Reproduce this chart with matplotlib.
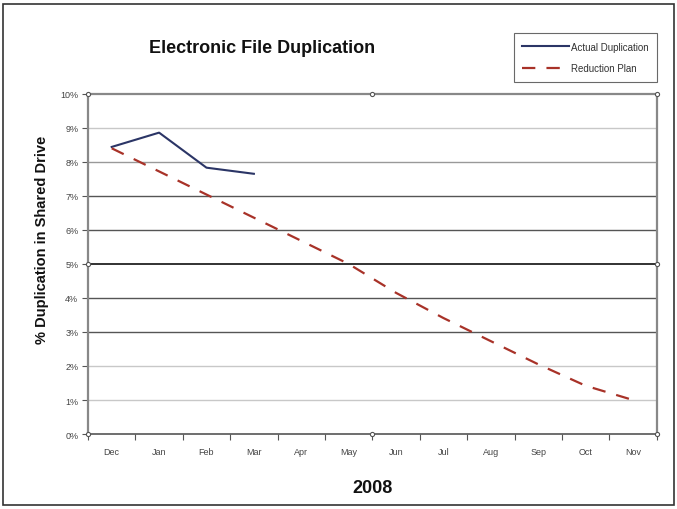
import numpy as np
import matplotlib
matplotlib.use("Agg")
import matplotlib.pyplot as plt
from matplotlib.patches import Rectangle

plt.rcParams['font.family'] = ['Liberation Sans', 'DejaVu Sans']

months = ['Dec', 'Jan', 'Feb', 'Mar', 'Apr', 'May', 'Jun', 'Jul', 'Aug', 'Sep', 'Oct', 'Nov']
actual = [8.44, 8.86, 7.83, 7.65]
plan = [8.4, 7.72, 7.04, 6.36, 5.68, 5.0, 4.15, 3.41, 2.73, 2.05, 1.42, 1.0]
y_ticks = list(range(0, 11))

fig = plt.figure(figsize=(6.77, 5.10), dpi=100)
ax = fig.add_axes([0.130, 0.147, 0.840, 0.667])

# gridlines, darker in the middle band like the original
grid_colors = {1: '#c8c8c8', 2: '#c8c8c8', 3: '#555555', 4: '#555555', 5: '#222222',
               6: '#555555', 7: '#555555', 8: '#999999', 9: '#c8c8c8'}
for v, c in grid_colors.items():
    ax.axhline(v, color=c, lw=1.0 if v != 5 else 1.3, zorder=1)

x = np.arange(len(months))
ax.plot(x[:len(actual)], actual, color='#2b3566', lw=1.5, label='Actual Duplication', zorder=3)
ax.plot(x, plan, color='#a83228', lw=1.6, dashes=(6, 5), label='Reduction Plan', zorder=3)

ax.set_xlim(-0.5, 11.5)
ax.set_ylim(0, 10)
ax.set_yticks(y_ticks)
ax.set_yticklabels([f'{v}%' for v in y_ticks], fontsize=6.5, color='#444444')
ax.set_xticks(np.arange(-0.5, 12, 1))
ax.set_xticklabels([])
ax.set_xticks(x, minor=True)
ax.set_xticklabels(months, minor=True, fontsize=6.5, color='#444444')
ax.tick_params(axis='x', which='major', length=4, color='#555555', direction='out')
ax.tick_params(axis='x', which='minor', length=0, pad=9)
ax.tick_params(axis='y', length=4, color='#555555', direction='out', pad=3)

for s in ['left', 'top', 'right']:
    ax.spines[s].set_color('#888888')
    ax.spines[s].set_linestyle((0, (1.5, 1)))
    ax.spines[s].set_linewidth(1.6)
ax.spines['bottom'].set_color('#555555')
ax.spines['bottom'].set_linewidth(1.2)

# small selection handles from the source chart
handle_pts = [(0, 1), (0.5, 1), (1, 1), (0, 0.5), (1, 0.5), (0, 0), (0.5, 0), (1, 0)]
for hx, hy in handle_pts:
    ax.plot(hx, hy, 'o', ms=3, mfc='white', mec='#555555', mew=0.8,
            transform=ax.transAxes, clip_on=False, zorder=5)

fig.text(0.387, 0.905, 'Electronic File Duplication', ha='center', va='center',
         fontsize=13, fontweight='bold', color='#111111')
fig.text(0.062, 0.53, '% Duplication in Shared Drive', ha='center', va='center',
         rotation=90, fontsize=10.5, fontweight='bold', color='#111111')
fig.text(0.55, 0.043, '2008', ha='center', va='center', fontsize=13,
         fontweight='bold', color='#111111')

leg = fig.legend(loc='upper right', bbox_to_anchor=(0.978, 0.943), fontsize=7,
                 frameon=True, fancybox=False, edgecolor='#444444',
                 handlelength=4.8, borderpad=0.9, labelspacing=1.2, handletextpad=0.2)
leg.get_frame().set_linewidth(0.8)
for t in leg.get_texts():
    t.set_color('#333333')

fig.add_artist(Rectangle((0.005, 0.008), 0.99, 0.983, transform=fig.transFigure,
                         fill=False, edgecolor='#333333', lw=1.2))

fig.savefig('out.png', dpi=100)
